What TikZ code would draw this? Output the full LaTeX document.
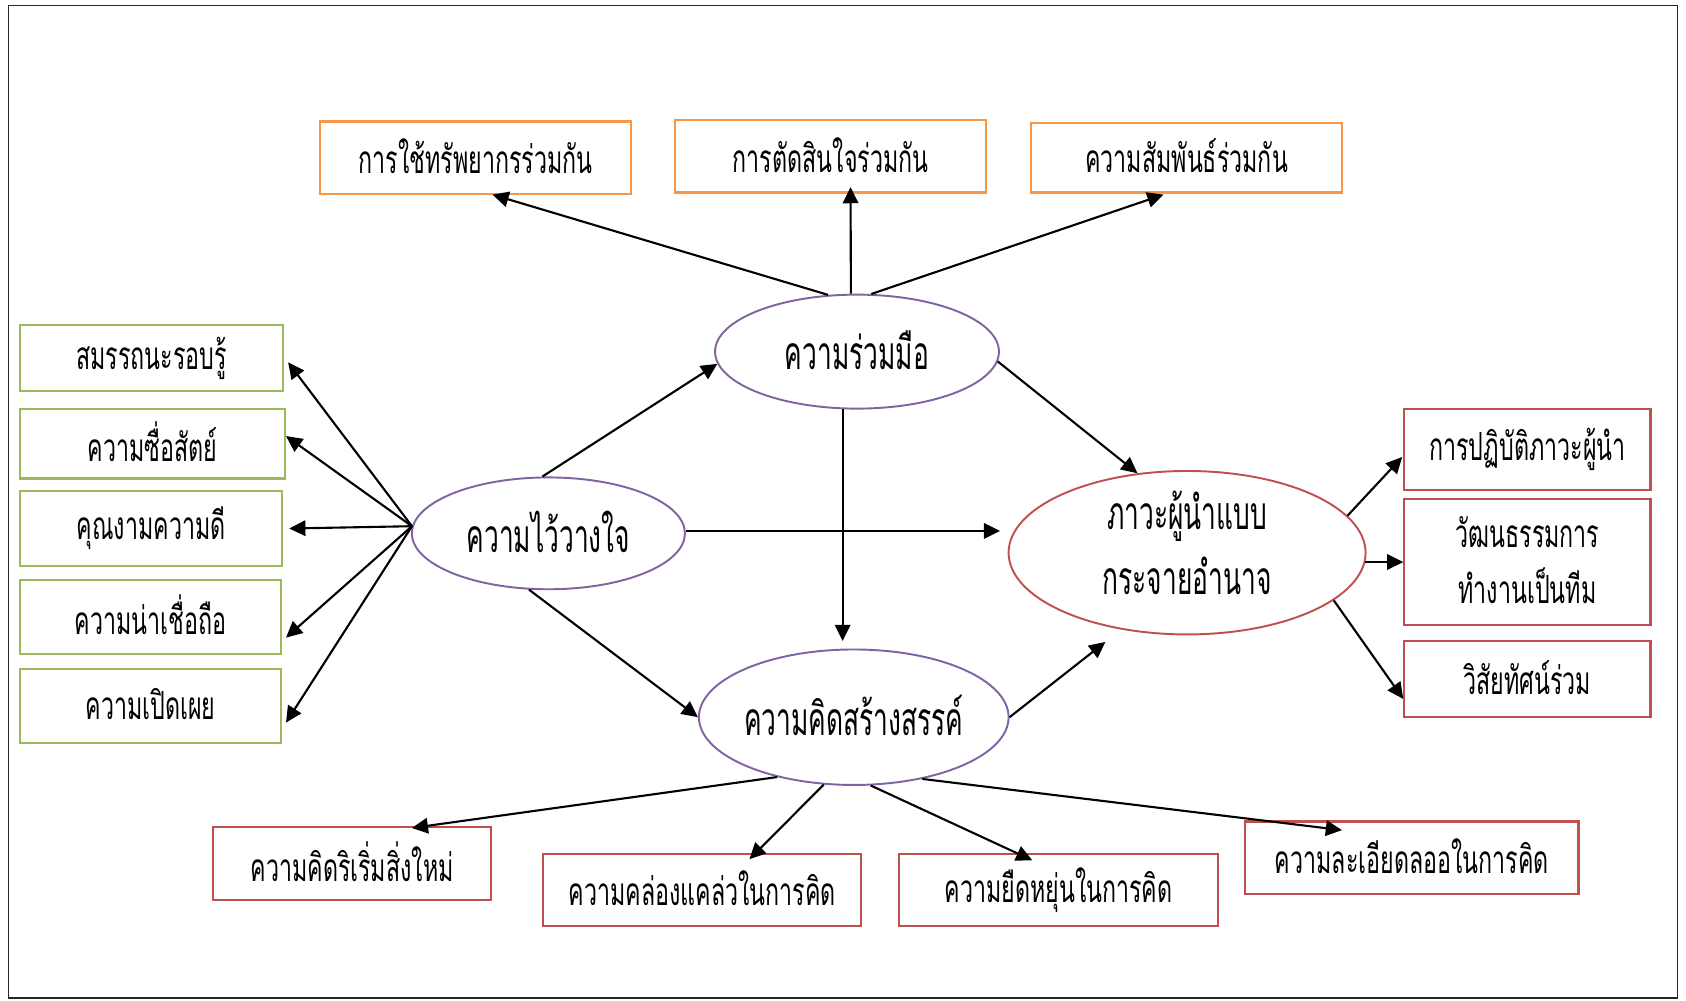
\documentclass[tikz,border=0pt]{standalone}
\usepackage{fontspec}
\usepackage{graphicx}
\newfontfamily\thaifont[Script=Thai]{Loma}
\usetikzlibrary{arrows.meta,shapes.geometric,calc}

\definecolor{boxorange}{HTML}{F79646}
\definecolor{boxgreen}{HTML}{9BBB59}
\definecolor{boxred}{HTML}{C0504D}
\definecolor{ovpurple}{HTML}{8064A2}

% condensed Thai lettering for boxes and ovals
\newcommand\sq[1]{\raisebox{1pt}{\scalebox{0.63}[1.05]{#1}}}
\newcommand\sqo[1]{\makebox[0pt]{\raisebox{1pt}{\scalebox{0.6}[1.05]{#1}}}}
% one line of an oval label, raised by #1, taking no room
\newcommand\ovline[2]{\makebox[0pt]{\raisebox{#1}[0pt][0pt]{\scalebox{0.6}[1.05]{#2}}}}
\def\U{0.010753cm}

\begin{document}
\begin{tikzpicture}[x=0.010753cm,y=-0.010753cm,
  wh/.style 2 args={minimum width=#1*\U, minimum height=#2*\U},
  tbox/.style={draw, line width=0.6pt, inner sep=0pt, align=center,
    font=\thaifont\fontsize{10.5pt}{16pt}\selectfont},
  obox/.style={tbox, draw=boxorange},
  gbox/.style={tbox, draw=boxgreen},
  rbox/.style={tbox, draw=boxred},
  oval/.style={ellipse, draw, line width=0.55pt, inner sep=0pt, align=center,
    font=\thaifont\fontsize{12.5pt}{19pt}\selectfont},
  link/.style={-{Triangle[length=4.6pt,width=4.4pt]}, line width=0.6pt, black}
]
\useasboundingbox (0,0) rectangle (1568,930);
\draw[line width=0.5pt, black!85] (8,5) rectangle (1560,928);

% central constructs
\node[oval, draw=ovpurple, wh={264}{106}] (coop) at (797,327) {\sqo{ความร่วมมือ}};
\node[oval, draw=ovpurple, wh={254}{104}] (trust) at (510,496) {\sqo{ความไว้วางใจ}};
\node[oval, draw=ovpurple, wh={288}{126}] (creat) at (794,667) {\sqo{ความคิดสร้างสรรค์}};
\node[oval, draw=boxred, wh={332}{152}] (lead) at (1104,514)
  {\ovline{6.6pt}{ภาวะผู้นำแบบ}\ovline{-12pt}{กระจายอำนาจ}};

% cooperation facets
\node[obox, wh={289}{67}] (o1) at (442.5,146.5) {\sq{การใช้ทรัพยากรร่วมกัน}};
\node[obox, wh={289}{67}] (o2) at (772.5,145.5) {\sq{การตัดสินใจร่วมกัน}};
\node[obox, wh={289}{65}] (o3) at (1103.5,146.5) {\sq{ความสัมพันธ์ร่วมกัน}};

% trust facets
\node[gbox, wh={244}{62}] (g1) at (141,333) {\sq{สมรรถนะรอบรู้}};
\node[gbox, wh={246}{65}] (g2) at (142,412.5) {\sq{ความซื่อสัตย์}};
\node[gbox, wh={243}{69}] (g3) at (140.5,491.5) {\sq{คุณงามความดี}};
\node[gbox, wh={242}{69}] (g4) at (140,573.5) {\sq{ความน่าเชื่อถือ}};
\node[gbox, wh={242}{69}] (g5) at (140,656.5) {\sq{ความเปิดเผย}};

% leadership facets
\node[rbox, wh={229}{76}] (r1) at (1420.5,418) {\sq{การปฏิบัติภาวะผู้นำ}};
\node[rbox, wh={229}{117}] (r2) at (1420.5,522.5)
  {\sq{วัฒนธรรมการ}\\[0pt]\sq{ทำงานเป็นทีม}};
\node[rbox, wh={229}{71}] (r3) at (1420.5,631.5) {\sq{วิสัยทัศน์ร่วม}};

% creativity facets
\node[rbox, wh={259}{68}] (b1) at (327.5,803) {\sq{ความคิดริเริ่มสิ่งใหม่}};
\node[rbox, wh={296}{67}] (b2) at (653,827.5) {\sq{ความคล่องแคล่วในการคิด}};
\node[rbox, wh={297}{67}] (b3) at (984.5,827.5) {\sq{ความยืดหยุ่นในการคิด}};
\node[rbox, wh={310}{67}] (b4) at (1313,797.5) {\sq{ความละเอียดลออในการคิด}};

% free arrow end below the leadership oval
\coordinate (cl) at (1028,597);

% cooperation
\draw[link] (coop.117) -- ($(o1.south)+(15.5,0)$);
\draw[link] (coop.96) -- ($(o2.south)+(18.5,-6)$);
\draw[link] (coop.76) -- ($(o3.south)+(-21.5,1)$);
\draw[link] (coop.-4) -- (lead.122);
\draw[link] (coop.256) -- ($(coop.256 |- creat.north)+(0,-7)$);

% trust
\draw[link] (trust.96) -- (coop.185);
\draw[link] (trust.1) -- ($(trust.1 -| lead.west)+(-7,0)$);
\draw[link] (trust.251) -- (creat.west);
\draw[link] (trust.177) -- ($(g1.east)+(4,4)$);
\draw[link] (trust.177) -- ($(g2.east)+(0,-7)$);
\draw[link] (trust.177) -- ($(g3.east)+(6,0)$);
\draw[link] (trust.177) -- ($(g4.east)+(4,19.5)$);
\draw[link] (trust.177) -- ($(g5.east)+(4,15.5)$);

% creativity
\draw[link] (creat.east) -- (cl);
\draw[link] (creat.218) -- ($(b1.north)+(55.5,2)$);
\draw[link] (creat.246) -- ($(b2.north)+(44,6)$);
\draw[link] (creat.284) -- ($(b3.north)+(-24.5,7)$);
\draw[link] (creat.318) -- ($(b4.north)+(-65,9)$);

% distributed leadership
\draw[link] (lead.13) -- ($(r1.west)+(-1,7)$);
\draw[link] (lead.-3) -- (lead.-3 -| r2.west);
\draw[link] (lead.-18) -- ($(r3.west)+(0,18.5)$);
\end{tikzpicture}
\end{document}
